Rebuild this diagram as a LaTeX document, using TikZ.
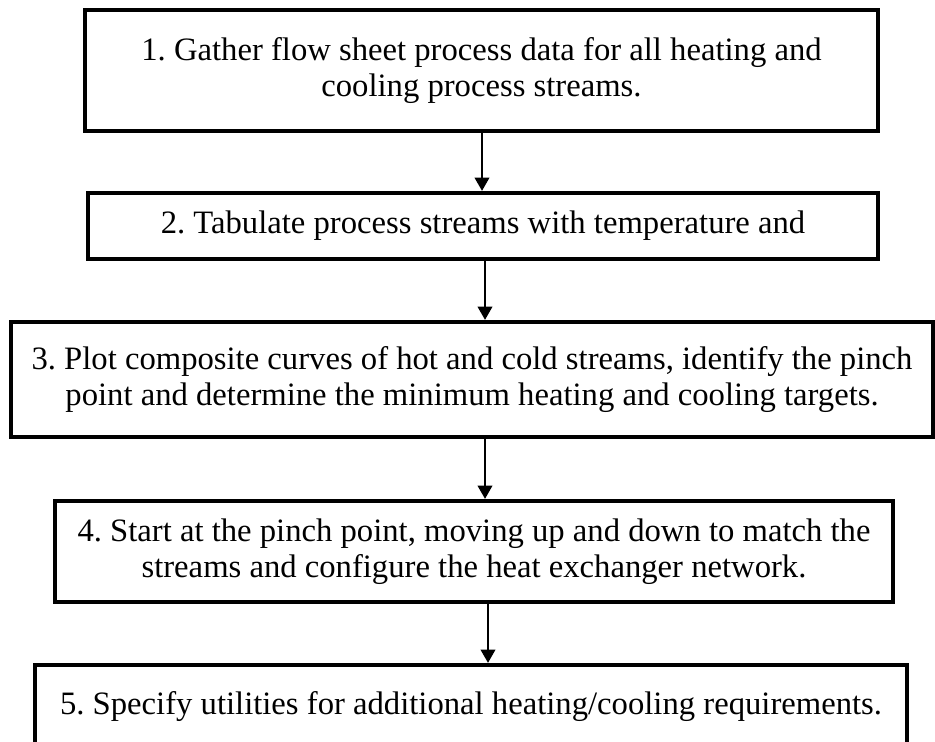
\documentclass[tikz,border=0pt]{standalone}
\usepackage{fontspec}
\setmainfont{Liberation Serif}
\usetikzlibrary{arrows.meta}
\begin{document}
\frenchspacing
\begin{tikzpicture}[x=0.75pt,y=-0.75pt,
  stepbox/.style={draw, line width=3.2pt, inner sep=0pt, align=center,
    font=\fontsize{24.5pt}{27pt}\selectfont},
  arr/.style={line width=1.5pt, -{Triangle[width=11pt,length=10pt]}}]
\clip (0,0) rectangle (935,742);
\node[stepbox, minimum width=594.75pt, minimum height=90.75pt] (b1) at (481.5,70.5)
  {1. Gather flow sheet process data for all heating and\\cooling process streams.};
\node[stepbox, minimum width=592.5pt, minimum height=49.5pt] (b2) at (483,226)
  {2. Tabulate process streams with temperature and};
\node[stepbox, minimum width=691.5pt, minimum height=86.25pt] (b3) at (472,379.5)
  {3. Plot composite curves of hot and cold streams, identify the pinch\\point and determine the minimum heating and cooling targets.};
\node[stepbox, minimum width=628.5pt, minimum height=75.75pt] (b4) at (474,551.5)
  {4. Start at the pinch point, moving up and down to match the\\streams and configure the heat exchanger network.};
\node[stepbox, minimum width=654pt, minimum height=63pt] (b5) at (471,707)
  {5. Specify utilities for additional heating/cooling requirements.};
\coordinate (a1) at (482,0);
\coordinate (a2) at (485,0);
\coordinate (a3) at (485,0);
\coordinate (a4) at (488,0);
\draw[arr] (b1.south -| a1) -- (b2.north -| a1);
\draw[arr] (b2.south -| a2) -- (b3.north -| a2);
\draw[arr] (b3.south -| a3) -- (b4.north -| a3);
\draw[arr] (b4.south -| a4) -- (b5.north -| a4);
\end{tikzpicture}
\end{document}
